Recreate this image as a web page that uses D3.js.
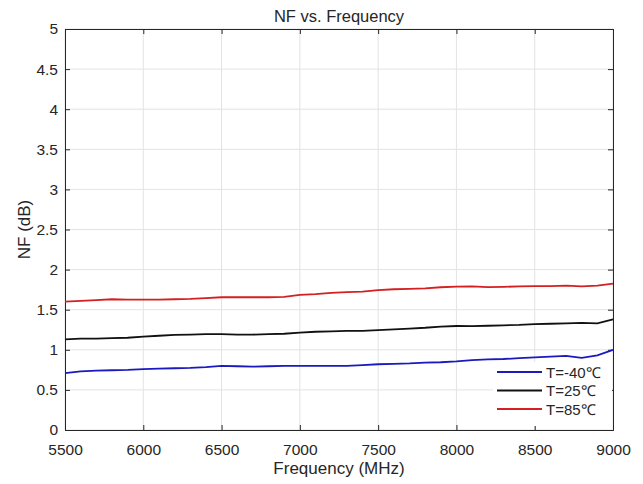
<!DOCTYPE html>
<html>
<head>
<meta charset="utf-8">
<script src="https://cdn.jsdelivr.net/npm/d3@7"></script>
<style>
  body { margin: 0; background: #fff; }
  text { font-family: "Liberation Sans", Arial, sans-serif; fill: #262626; }
</style>
</head>
<body>
<div id="chart"></div>
<script>
// Data
var freq = [5500, 5600, 5700, 5800, 5900, 6000, 6100, 6200, 6300, 6400, 6500, 6600,
            6700, 6800, 6900, 7000, 7100, 7200, 7300, 7400, 7500, 7600, 7700, 7800,
            7900, 8000, 8100, 8200, 8300, 8400, 8500, 8600, 8700, 8800, 8900, 9000];

var nfMinus40 = [0.71, 0.73, 0.74, 0.745, 0.75, 0.76, 0.765, 0.77, 0.775, 0.785, 0.80, 0.795,
                 0.79, 0.795, 0.80, 0.80, 0.80, 0.80, 0.80, 0.81, 0.82, 0.825, 0.83, 0.84,
                 0.845, 0.855, 0.87, 0.88, 0.885, 0.895, 0.905, 0.915, 0.925, 0.90, 0.93, 1.00];

var nf25 = [1.13, 1.14, 1.14, 1.145, 1.15, 1.165, 1.175, 1.185, 1.19, 1.195, 1.195, 1.19,
            1.19, 1.195, 1.20, 1.215, 1.225, 1.23, 1.235, 1.235, 1.245, 1.255, 1.265, 1.275,
            1.29, 1.297, 1.295, 1.30, 1.305, 1.31, 1.32, 1.325, 1.33, 1.335, 1.33, 1.38];

var nf85 = [1.60, 1.61, 1.62, 1.63, 1.625, 1.625, 1.625, 1.63, 1.635, 1.645, 1.655, 1.655,
            1.655, 1.655, 1.66, 1.685, 1.695, 1.71, 1.72, 1.725, 1.745, 1.755, 1.76, 1.765,
            1.78, 1.787, 1.79, 1.782, 1.785, 1.79, 1.795, 1.795, 1.80, 1.79, 1.80, 1.825];

var seriesNames = ["T=-40\u2103", "T=25\u2103", "T=85\u2103"];
var seriesColors = ["#1a1abf", "#111111", "#d42020"];

var xTicks = [5500, 6000, 6500, 7000, 7500, 8000, 8500, 9000];
var yTicks = [0, 0.5, 1, 1.5, 2, 2.5, 3, 3.5, 4, 4.5, 5];

var series = [nfMinus40, nf25, nf85].map(function(vals, i) {
    return {
        name: seriesNames[i],
        color: seriesColors[i],
        values: freq.map(function(f, j) { return { f: f, v: vals[j] }; })
    };
});

var totalW = 643, totalH = 484;
var margin = { top: 29, right: 30, bottom: 54, left: 65 };
var width = totalW - margin.left - margin.right,
    height = totalH - margin.top - margin.bottom;

var svg = d3.select("#chart").append("svg")
    .attr("width", totalW)
    .attr("height", totalH);

var g = svg.append("g")
    .attr("transform", "translate(" + margin.left + "," + margin.top + ")");

var x = d3.scaleLinear().domain([5500, 9000]).range([0, width]);
var y = d3.scaleLinear().domain([0, 5]).range([height, 0]);

// grid
g.append("g").selectAll("line.vg").data(xTicks).enter().append("line")
    .attr("x1", function(d) { return x(d); })
    .attr("x2", function(d) { return x(d); })
    .attr("y1", 0).attr("y2", height)
    .attr("stroke", "#e3e3e3").attr("stroke-width", 1);

g.append("g").selectAll("line.hg").data(yTicks).enter().append("line")
    .attr("y1", function(d) { return y(d); })
    .attr("y2", function(d) { return y(d); })
    .attr("x1", 0).attr("x2", width)
    .attr("stroke", "#e3e3e3").attr("stroke-width", 1);

// axes (ticks inward, box on)
var fmt = function(d) { return d3.format("")(d); };
var xAxis = g.append("g").attr("transform", "translate(0," + height + ")")
    .call(d3.axisBottom(x).tickValues(xTicks).tickSize(-5).tickPadding(14).tickFormat(fmt));
var xTop = g.append("g")
    .call(d3.axisTop(x).tickValues(xTicks).tickSize(-5).tickFormat(""));
var yAxis = g.append("g")
    .call(d3.axisLeft(y).tickValues(yTicks).tickSize(-5).tickPadding(7).tickFormat(fmt));
var yRight = g.append("g").attr("transform", "translate(" + width + ",0)")
    .call(d3.axisRight(y).tickValues(yTicks).tickSize(-5).tickFormat(""));

[xAxis, xTop, yAxis, yRight].forEach(function(a) {
    a.selectAll(".domain").attr("stroke", "#262626").attr("stroke-width", 1);
    a.selectAll(".tick line").attr("stroke", "#262626");
    a.selectAll(".tick text").style("font-size", "15.5px").attr("fill", "#262626")
        .style("font-family", "'Liberation Sans', Arial, sans-serif");
});

// lines
var line = d3.line()
    .x(function(d) { return x(d.f); })
    .y(function(d) { return y(d.v); });

g.selectAll("path.series").data(series).enter().append("path")
    .attr("class", "series")
    .attr("d", function(d) { return line(d.values); })
    .attr("fill", "none")
    .attr("stroke", function(d) { return d.color; })
    .attr("stroke-width", 1.8);

// legend
var legend = g.append("g")
    .attr("transform", "translate(" + (width - 120) + "," + (height - 68) + ")");

legend.append("rect")
    .attr("x", 0).attr("y", 0)
    .attr("width", 119).attr("height", 64)
    .attr("fill", "#fff");

var items = legend.selectAll("g.item").data(series).enter().append("g")
    .attr("transform", function(d, i) { return "translate(0," + (10 + i * 18.5) + ")"; });

items.append("line")
    .attr("x1", 4).attr("x2", 49)
    .attr("stroke", function(d) { return d.color; })
    .attr("stroke-width", 1.8);

items.append("text")
    .attr("x", 53).attr("y", 5.5)
    .style("font-size", "15px")
    .text(function(d) { return d.name; });

// titles
svg.append("text")
    .attr("x", margin.left + width / 2).attr("y", 22)
    .attr("text-anchor", "middle")
    .style("font-size", "16.5px")
    .attr("fill", "#111")
    .text("NF vs. Frequency");

svg.append("text")
    .attr("x", margin.left + width / 2).attr("y", 474)
    .attr("text-anchor", "middle")
    .style("font-size", "17px")
    .text("Frequency (MHz)");

svg.append("text")
    .attr("transform", "translate(30," + (margin.top + height / 2) + ") rotate(-90)")
    .attr("text-anchor", "middle")
    .style("font-size", "17px")
    .text("NF (dB)");
</script>
</body>
</html>
